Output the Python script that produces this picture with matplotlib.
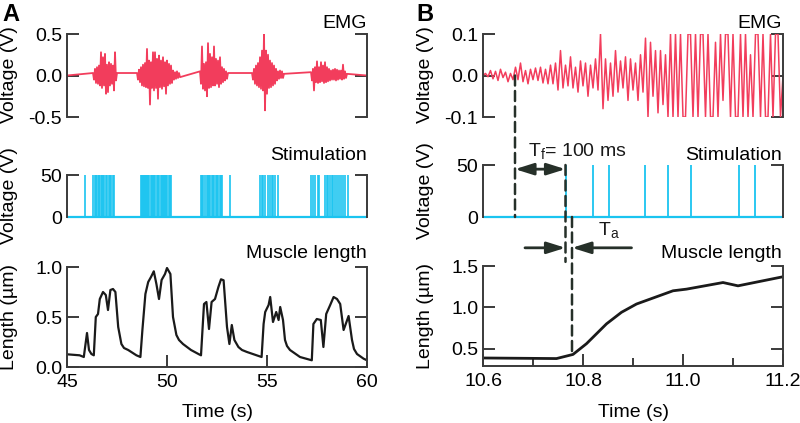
import numpy as np
import matplotlib
matplotlib.use('Agg')
import matplotlib.pyplot as plt
from matplotlib.patches import ConnectionPatch
from matplotlib.ticker import MultipleLocator

plt.rcParams['font.family'] = ['Liberation Sans', 'DejaVu Sans']
plt.rcParams['mathtext.fontset'] = 'custom'
plt.rcParams['mathtext.rm'] = 'Liberation Sans'
plt.rcParams['mathtext.it'] = 'Liberation Sans'

# ---------------- DATA ----------------
# Panel A: EMG bursts (start time, samples every 0.05 s)
emg_a_step = 0.05
emg_a_burst_starts = [46.30, 48.50, 51.65, 54.25, 57.20]
emg_a_burst1 = [0.03, -0.05, 0.08, -0.09, 0.10, -0.10, 0.12, -0.12, 0.28, -0.15, 0.22, -0.12,
                0.26, -0.22, 0.13, -0.20, 0.16, -0.12, 0.14, -0.10, 0.12, -0.18, 0.28, -0.06, 0.03]
emg_a_burst2 = [0.03, -0.05, 0.07, -0.08, 0.10, -0.12, 0.13, -0.13, 0.15, -0.14, 0.32, -0.15,
                0.18, -0.35, 0.16, -0.15, 0.28, -0.18, 0.28, -0.15, 0.20, -0.28, 0.24, -0.14,
                0.18, -0.16, 0.22, -0.13, 0.16, -0.22, 0.18, -0.12, 0.14, -0.10, 0.12, -0.09,
                0.06, -0.05, 0.04, -0.04, 0.05, -0.03, 0.03, -0.02]
emg_a_burst3 = [0.05, -0.10, 0.35, -0.16, 0.14, -0.18, 0.16, -0.25, 0.39, -0.15, 0.26, -0.14,
                0.22, -0.12, 0.35, -0.12, 0.20, -0.10, 0.18, -0.14, 0.22, -0.10, 0.10, -0.08,
                0.08, -0.06, 0.05, -0.04, 0.03]
emg_a_burst4 = [0.03, -0.05, 0.08, -0.10, 0.12, -0.12, 0.15, -0.14, 0.22, -0.16, 0.30, -0.18,
                0.50, -0.42, 0.30, -0.22, 0.25, -0.15, 0.18, -0.14, 0.15, -0.12, 0.12, -0.10,
                0.08, -0.06, 0.05, -0.04, 0.06, -0.03, 0.05, -0.03, 0.02]
emg_a_burst5 = [0.04, -0.06, 0.08, -0.18, 0.10, -0.08, 0.17, -0.09, 0.10, -0.08, 0.16, -0.07,
                0.12, -0.09, 0.16, -0.08, 0.10, -0.07, 0.08, -0.06, 0.06, -0.05, 0.07, -0.05,
                0.08, -0.06, 0.07, -0.05, 0.06, -0.04, 0.06, -0.05, 0.13, -0.04, 0.05, -0.03, 0.02]

# Panel A: stimulation pulse times (s)
stim_a_times = [45.90,
                46.32, 46.38, 46.44, 46.52, 46.58, 46.62, 46.68, 46.75, 46.80, 46.86, 46.95,
                47.02, 47.08, 47.15, 47.22, 47.28, 47.35,
                48.68, 48.73, 48.78, 48.83, 48.90, 48.95, 49.00, 49.06, 49.12, 49.18, 49.23,
                49.28, 49.33, 49.40, 49.52, 49.57, 49.62, 49.68, 49.73, 49.78, 49.85, 49.90,
                49.95, 50.02, 50.08, 50.13, 50.18,
                51.70, 51.75, 51.80, 51.90, 52.00, 52.05, 52.10, 52.17, 52.23, 52.30, 52.37,
                52.43, 52.50, 52.57, 52.63, 52.70, 52.77, 53.15,
                54.65, 54.73, 54.82, 54.90, 55.07, 55.15, 55.23, 55.32, 55.40, 55.53,
                57.20, 57.32, 57.40, 57.53, 57.60, 57.90, 57.98, 58.07, 58.15, 58.23, 58.32,
                58.40, 58.48, 58.60, 58.70, 58.80, 58.90, 59.05]

# Panel A: muscle length
len_a_t = [45.0, 45.63, 45.84, 46.0, 46.1, 46.22, 46.34, 46.44, 46.55, 46.64, 46.8, 46.94, 47.05,
           47.17, 47.3, 47.42, 47.56, 47.72, 47.85, 48.06, 48.47, 48.67, 48.77, 48.92, 49.06, 49.2,
           49.34, 49.47, 49.6, 49.73, 49.9, 50.0, 50.17, 50.3, 50.47, 50.6, 50.8, 51.2, 51.6, 51.7,
           51.85, 51.97, 52.1, 52.23, 52.4, 52.57, 52.7, 52.83, 53.0, 53.12, 53.24, 53.37,
           53.57, 53.75, 54.0, 54.48, 54.73, 54.83, 54.91, 55.08, 55.16, 55.3, 55.46, 55.58, 55.66,
           55.8, 55.9, 56.0, 56.15, 56.65, 57.24, 57.32, 57.49, 57.69, 57.82, 57.96, 58.16, 58.33,
           58.5, 58.66, 58.83, 59.08, 59.25, 59.35, 59.5, 59.83, 60.0]
len_a_v = [0.127, 0.117, 0.10, 0.34, 0.17, 0.13, 0.117, 0.50, 0.53, 0.68, 0.75, 0.72, 0.57,
           0.77, 0.78, 0.75, 0.40, 0.23, 0.19, 0.17, 0.117, 0.10, 0.37, 0.73, 0.85, 0.90,
           0.957, 0.83, 0.68, 0.87, 0.93, 0.99, 0.93, 0.50, 0.32, 0.27, 0.23, 0.17, 0.127, 0.117,
           0.63, 0.65, 0.38, 0.65, 0.68, 0.80, 0.877, 0.867, 0.40, 0.23, 0.42, 0.27,
           0.20, 0.17, 0.15, 0.117, 0.10, 0.43, 0.55, 0.62, 0.70, 0.45, 0.55, 0.47, 0.60,
           0.47, 0.27, 0.21, 0.17, 0.10, 0.067, 0.43, 0.48, 0.47, 0.20, 0.53, 0.62, 0.70,
           0.68, 0.63, 0.37, 0.51, 0.27, 0.18, 0.13, 0.083, 0.067]

# Panel B: EMG samples every 5 ms from 10.6 s
emg_b_start = 10.6
emg_b_step = 0.005
emg_b = [0.000, 0.005, -0.003, 0.012, -0.008, 0.010, -0.012, 0.015, -0.005, 0.008, -0.015, 0.005, -0.010,
         0.020, -0.010, 0.030, -0.015, 0.012, -0.020, 0.015, -0.010, 0.018, -0.012, 0.020, -0.018, 0.015, -0.020,
         0.025, -0.020, 0.030, -0.035, 0.060, -0.030, 0.025, -0.025, 0.045, -0.030, 0.020, -0.040, 0.035,
         -0.025, 0.030, -0.050, 0.025, -0.030, 0.040, -0.035,
         0.100, -0.080, 0.040, -0.060, 0.030, -0.050, 0.060, -0.040, 0.035, -0.030, 0.045, -0.060, 0.040, -0.035,
         0.030, -0.060, 0.050, -0.040, 0.090, -0.100, 0.080, -0.050, 0.060, -0.090, 0.060, -0.070, 0.050,
         -0.100, 0.100, -0.100,
         0.10, -0.10, 0.10, -0.10, -0.10, 0.10, 0.10, -0.10, 0.10, -0.10,
         0.10, 0.10, -0.10, 0.10, -0.10, -0.10, 0.08, -0.10, 0.10, -0.06,
         0.10, 0.10, -0.10, 0.10, -0.10, -0.10, 0.10, -0.10, 0.10, -0.10,
         0.05, -0.10, 0.10, 0.10, -0.10, 0.10, -0.10, -0.10, 0.10, -0.10,
         0.10, 0.10, -0.10, 0.00]

# Panel B: stimulation pulse times (s)
stim_b_times = [10.765, 10.819, 10.851, 10.923, 10.969, 11.016, 11.112, 11.144]

# Panel B: muscle length
len_b_t = [10.6, 10.747, 10.78, 10.807, 10.847, 10.877, 10.907, 10.98, 11.007, 11.08, 11.11, 11.2]
len_b_v = [0.387, 0.38, 0.43, 0.56, 0.80, 0.94, 1.04, 1.20, 1.22, 1.30, 1.26, 1.37]

# Panel B: timing markers (s)
t_emg_onset = 10.664
t_first_stim = 10.765
t_move_onset = 10.778
t_ta_left = 10.684
t_ta_right = 10.897

# ---------------- STYLE ----------------
W, H = 800, 423
RED = '#f23d5c'
CYAN = '#1ac4f0'
BLACK = '#1a1a1a'
SP = '#3a3a3a'
ANN = '#263029'
FS = 14

fig = plt.figure(figsize=(W / 100, H / 100), dpi=100)


def px_axes(x0, y0, x1, y1):
    return fig.add_axes([x0 / W, 1 - y1 / H, (x1 - x0) / W, (y1 - y0) / H])


def style(ax, bottom=False):
    ax.spines['top'].set_visible(False)
    ax.spines['bottom'].set_visible(bottom)
    for s in ['left', 'right', 'bottom']:
        ax.spines[s].set_color(SP)
        ax.spines[s].set_linewidth(1.4)
    ax.tick_params(axis='y', which='both', direction='in', left=True, right=True,
                   length=8.5, width=1.4, color=SP, labelsize=FS, pad=3.5)
    if bottom:
        ax.tick_params(axis='x', which='major', direction='in', length=8.5, width=1.4,
                       color=SP, labelsize=FS, pad=5, top=False)
        ax.tick_params(axis='x', which='minor', direction='in', length=6, width=1.4,
                       color=SP, top=False)
    else:
        ax.set_xticks([])
    ax.patch.set_alpha(0)


def ftext(x, y, s, **kw):
    fig.text(x / W, 1 - y / H, s, **kw)


# ---------------- PANEL A ----------------
ax1 = px_axes(67, 34, 367, 117)
emg_t = [45.0]
emg_v = [0.0]
for t0, vals in zip(emg_a_burst_starts, [emg_a_burst1, emg_a_burst2, emg_a_burst3, emg_a_burst4, emg_a_burst5]):
    emg_t += [t0 + i * emg_a_step for i in range(len(vals))]
    emg_v += vals
emg_t.append(60.0)
emg_v.append(0.0)
ax1.plot(emg_t, emg_v, color=RED, lw=1.3)
ax1.set_xlim(45, 60)
ax1.set_ylim(-0.5, 0.5)
ax1.set_yticks([-0.5, 0.0, 0.5])
ax1.set_yticklabels(['-0.5', '0.0', '0.5'])
style(ax1)

ax2 = px_axes(67, 175, 367, 217)
ax2.vlines(stim_a_times, 0, 50, color=CYAN, lw=1.2, clip_on=False)
ax2.hlines(0, 45, 60, color=CYAN, lw=1.6, clip_on=False)
ax2.set_xlim(45, 60)
ax2.set_ylim(0, 50)
ax2.set_yticks([0, 50])
style(ax2)

ax3 = px_axes(67, 267, 367, 367)
ax3.plot(len_a_t, len_a_v, color=BLACK, lw=1.6)
ax3.set_xlim(45, 60)
ax3.set_ylim(0, 1.0)
ax3.set_yticks([0.0, 0.5, 1.0])
ax3.set_yticklabels(['0.0', '0.5', '1.0'])
ax3.set_xticks([45, 50, 55, 60])
style(ax3, bottom=True)

# ---------------- PANEL B ----------------
bx1 = px_axes(483, 34, 783, 117)
emg_b_t = [emg_b_start + i * emg_b_step for i in range(len(emg_b))]
bx1.plot(emg_b_t, emg_b, color=RED, lw=1.1)
bx1.set_xlim(10.6, 11.2)
bx1.set_ylim(-0.1, 0.1)
bx1.set_yticks([-0.1, 0.0, 0.1])
bx1.set_yticklabels(['-0.1', '0.0', '0.1'])
style(bx1)

bx2 = px_axes(483, 165, 783, 217)
bx2.vlines(stim_b_times, 0, 50, color=CYAN, lw=1.3, clip_on=False)
bx2.hlines(0, 10.6, 11.2, color=CYAN, lw=1.6, clip_on=False)
bx2.set_xlim(10.6, 11.2)
bx2.set_ylim(0, 50)
bx2.set_yticks([0, 50])
style(bx2)

bx3 = px_axes(483, 266, 783, 366)
bx3.plot(len_b_t, len_b_v, color=BLACK, lw=2.0)
bx3.set_xlim(10.6, 11.2)
bx3.set_ylim(0.29, 1.5)
bx3.set_yticks([0.5, 1.0, 1.5])
bx3.set_xticks([10.6, 10.8, 11.0, 11.2])
bx3.xaxis.set_minor_locator(MultipleLocator(0.1))
style(bx3, bottom=True)

# dashed markers
dash = (0, (4, 2.2))
for (xa, ya, axa), (xb, yb, axb) in [
        ((t_emg_onset, 0.0, bx1), (t_emg_onset, 0.0, bx2)),
        ((t_first_stim, 50, bx2), (t_first_stim, 1.55, bx3)),
        ((t_move_onset, 0, bx2), (t_move_onset, 0.43, bx3))]:
    cp = ConnectionPatch((xa, ya), (xb, yb), coordsA=axa.transData, coordsB=axb.transData,
                         color=ANN, lw=1.8, linestyle=dash, zorder=5)
    fig.add_artist(cp)

# T_f double arrow
bx2.annotate('', xy=(t_first_stim, 46), xytext=(t_emg_onset, 46), annotation_clip=False,
             arrowprops=dict(arrowstyle='<|-|>,head_length=0.7,head_width=0.22', color=ANN,
                             lw=2.0, mutation_scale=16, shrinkA=0, shrinkB=0))
bx2.text(10.69, 63, r'T$_\mathregular{f}$= 100 ms', fontsize=FS, va='center', ha='left', color=BLACK)

# T_a arrows
for xs, xe in [(t_ta_left, t_first_stim), (t_ta_right, t_move_onset)]:
    bx3.annotate('', xy=(xe, 1.72), xytext=(xs, 1.72), annotation_clip=False,
                 arrowprops=dict(arrowstyle='-|>,head_length=0.7,head_width=0.22', color=ANN,
                                 lw=2.0, mutation_scale=16, shrinkA=0, shrinkB=0))
bx3.text(10.83, 1.93, r'T$_\mathregular{a}$', fontsize=FS, va='center', ha='left', color=BLACK)

# ---------------- TEXT ----------------
ftext(2, 3, 'A', fontsize=17, fontweight='bold', ha='left', va='top')
ftext(416, 3, 'B', fontsize=17, fontweight='bold', ha='left', va='top')

for xr in (367, 782):
    ftext(xr, 24, 'EMG', fontsize=FS, ha='right', va='center')
    ftext(xr, 156, 'Stimulation', fontsize=FS, ha='right', va='center')
    ftext(xr, 253, 'Muscle length', fontsize=FS, ha='right', va='center')

for xc, ys in [(10, (75, 196, 317)), (425, (75, 191, 316))]:
    ftext(xc, ys[0], 'Voltage (V)', fontsize=FS, rotation=90, ha='center', va='center')
    ftext(xc, ys[1], 'Voltage (V)', fontsize=FS, rotation=90, ha='center', va='center')
    ftext(xc, ys[2], 'Length (\u00b5m)', fontsize=FS, rotation=90, ha='center', va='center')

ftext(217, 412, 'Time (s)', fontsize=FS, ha='center', va='center')
ftext(633, 412, 'Time (s)', fontsize=FS, ha='center', va='center')

fig.savefig('out.png', dpi=100)
